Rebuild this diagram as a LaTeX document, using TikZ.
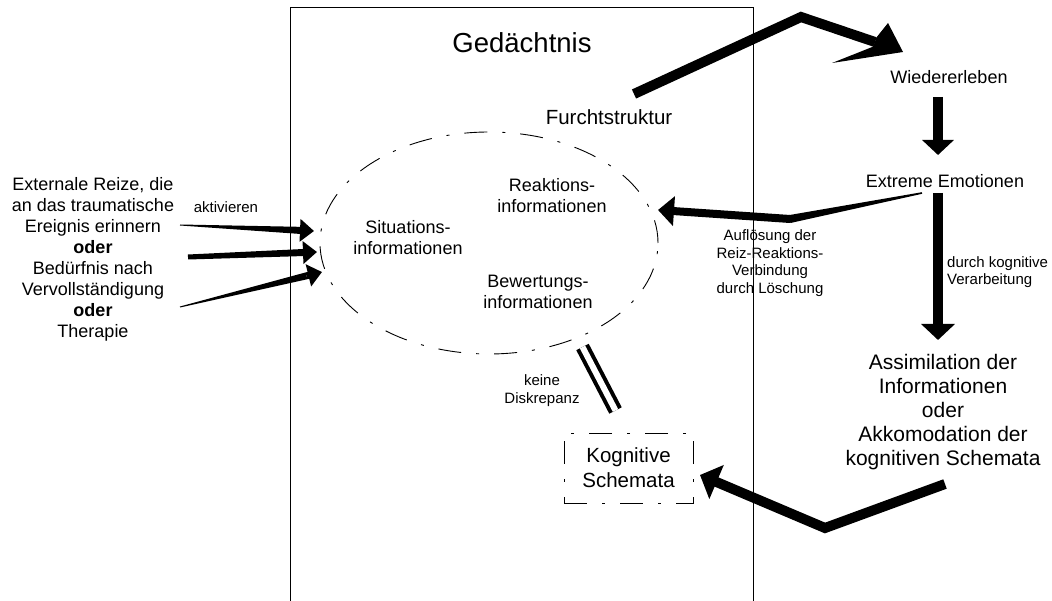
\documentclass[tikz,border=0pt]{standalone}
\usepackage{fontspec}
\setmainfont{Liberation Sans}
\usetikzlibrary{arrows.meta,calc,shapes.geometric}

% wedge from #1 (half width #3) to #2 (half width #4)
\newcommand\taperline[4]{%
  \fill ($(#1)!#3!90:(#2)$) -- ($(#2)!#4!-90:(#1)$) -- ($(#2)!#4!90:(#1)$) -- ($(#1)!#3!-90:(#2)$) -- cycle;}

\tikzset{
  txt/.style={align=center, inner sep=0pt, font=\fontsize{18}{21}\selectfont},
  smalltxt/.style={align=center, inner sep=0pt, font=\fontsize{15}{17.5}\selectfont},
  dashdotline/.style={line width=0.9pt, dash pattern=on 23pt off 15pt on 3pt off 15pt},
  fat/.style={line width=#1, line join=miter, miter limit=20},
}

\begin{document}
\begin{tikzpicture}[x=1pt,y=-1pt]
  \useasboundingbox (0,0) rectangle (1052,601);
  % memory frame, open at the bottom
  \draw[line width=1pt] (290,601) -- (290,8) -- (753,8) -- (753,601);
  \node (gedaechtnis) [txt, font=\fontsize{27.5}{30}\selectfont] at (522,43) {Gedächtnis};
  \node (furcht) [txt, font=\fontsize{20.5}{24}\selectfont] at (609,117) {Furchtstruktur};
  \node (mem) [ellipse, draw, dashdotline, minimum width=338pt, minimum height=222pt] at (489,243) {};
  \node (sit) [txt] at (408,238) {Situations-\\informationen};
  \node (reak) [txt] at (552,196) {Reaktions-\\informationen};
  \node (bew) [txt] at (538,292) {Bewertungs-\\informationen};
  \node (schema) [draw, dashdotline, txt, font=\fontsize{20.5}{25}\selectfont, minimum width=129pt, minimum height=70pt] at (628.5,468) {Kognitive\\Schemata};
  \node (diskrepanz) [smalltxt, font=\fontsize{15}{18}\selectfont] at (542,391) {keine\\Diskrepanz};

  % outside the frame
  \node (reize) [txt] at (93,259) {Externale Reize, die\\an das traumatische\\Ereignis erinnern\\\textbf{oder}\\Bedürfnis nach\\Vervollständigung\\\textbf{oder}\\Therapie};
  \node (akt) [smalltxt] at (226,207) {aktivieren};
  \node (wieder) [txt] at (949,77) {Wiedererleben};
  \node (emo) [txt] at (945,181) {Extreme Emotionen};
  \node (aufl) [smalltxt] at (770,263) {Auflösung der\\Reiz-Reaktions-\\Verbindung\\durch Löschung};
  \node (verarb) [smalltxt, align=left, anchor=west, font=\fontsize{15}{17}\selectfont] at (947,272.5) {durch kognitive\\Verarbeitung};
  \node (assim) [txt, font=\fontsize{21}{24.2}\selectfont] at (943,412) {Assimilation der\\Informationen\\oder\\Akkomodation der\\kognitiven Schemata};

  % stimuli arrows
  \coordinate (r1) at (180,225); \coordinate (t1) at (314,231);
  \coordinate (r2) at (188,257); \coordinate (t2) at (317,252);
  \coordinate (r3) at (180,307); \coordinate (t3) at (322,272);
  \foreach \r/\t/\w in {r1/t1/0.5pt, r2/t2/2.5pt, r3/t3/0.5pt} {
    \coordinate (s) at ($(\t)!16pt!(\r)$);
    \taperline{\r}{s}{\w}{3.5pt};
    \draw[fat=7pt, -{Triangle[length=14pt,width=22pt]}] (s) -- (\t);
  }

  % Furchtstruktur -> Wiedererleben, skewed head
  \coordinate (f0) at (634,94); \coordinate (f1) at (801,17); \coordinate (f2) at (875,42);
  \coordinate (f3) at (903,52);
  \draw[fat=10pt] (f0) -- (f1) -- (f2);
  \fill (888,23) -- (f3) -- (832,63) -- (873,46.7) -- (876.6,37.3) -- cycle;

  % Wiedererleben -> Extreme Emotionen -> Assimilation
  \coordinate (w1) at (938,97); \coordinate (w2) at (938,155);
  \draw[fat=10pt, -{Triangle[length=15pt,width=31pt]}] (w1) -- (w2);
  \coordinate (e2) at (938,193); \coordinate (a1) at (938,340);
  \draw[fat=10pt, -{Triangle[length=16pt,width=33pt]}] (e2) -- (a1);

  % Extreme Emotionen -> Reaktionsinformationen
  \coordinate (e1) at (922,193); \coordinate (b1) at (790,219); \coordinate (t4) at (658,210);
  \taperline{e1}{b1}{0.8pt}{4pt};
  \draw[fat=8pt, line cap=round, -{Triangle[length=16pt,width=29pt]}] (b1) -- (t4);

  % Assimilation -> Kognitive Schemata
  \coordinate (s5) at (945,484); \coordinate (b2) at (825,528); \coordinate (t5) at (700,475);
  \draw[fat=10pt, -{Triangle[length=18pt,width=36pt]}] (s5) -- (b2) -- (t5);

  % keine Diskrepanz
  \coordinate (d1) at (582.5,347); \coordinate (d2) at (615.5,410.5);
  \draw[double, double distance=6pt, line width=4pt] (d1) -- (d2);
\end{tikzpicture}
\end{document}
